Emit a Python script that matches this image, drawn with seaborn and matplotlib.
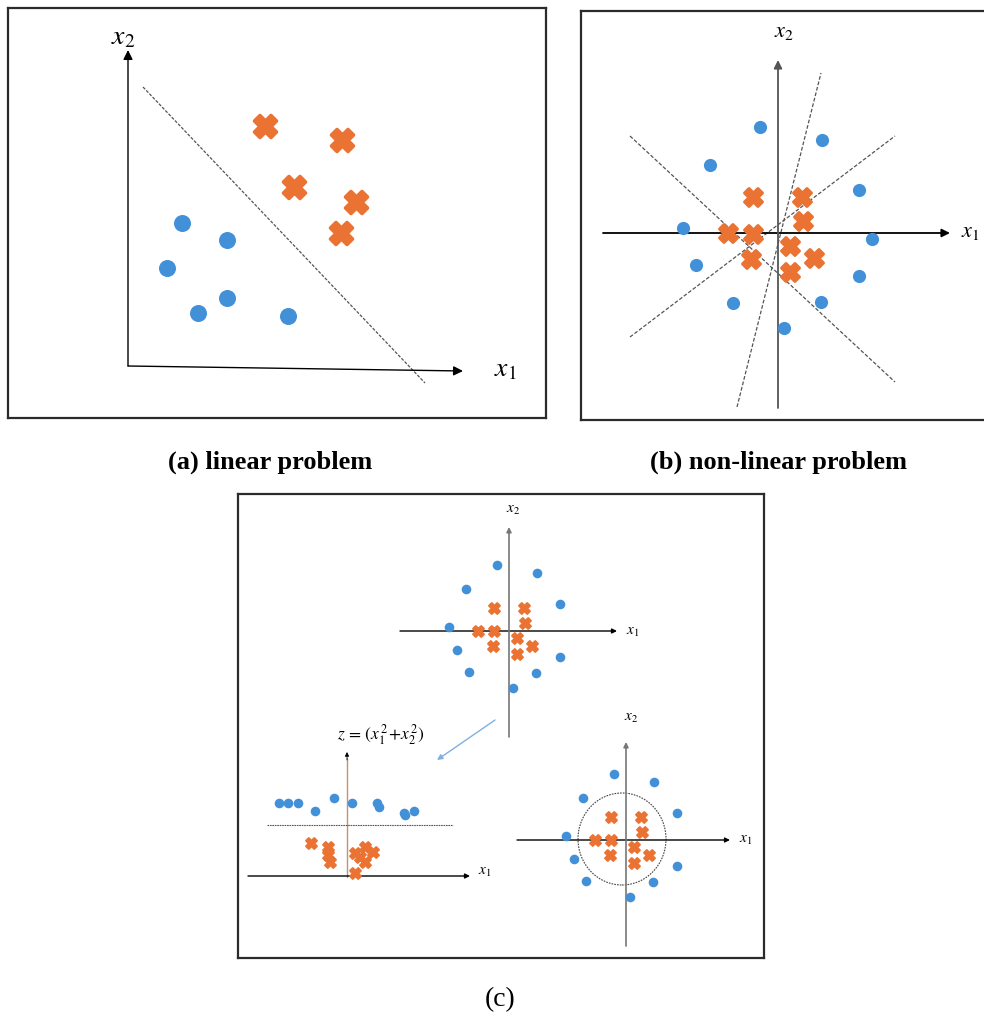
import numpy as np
import seaborn as sns
import matplotlib.pyplot as plt
from matplotlib.patches import Ellipse

sns.set_style('white')
plt.rcParams['font.family'] = ['Liberation Serif', 'DejaVu Serif']
plt.rcParams['mathtext.fontset'] = 'stix'
plt.rcParams['text.color'] = 'black'

BLUE = '#4291d8'
ORANGE = '#ea7333'
W, H = 984, 1014

# (a) linear problem, coordinates relative to the axes origin
a_blue_x = [54, 99, 39, 99, 70, 160]
a_blue_y = [143, 126, 98, 68, 53, 50]
a_orange_x = [137, 214, 166, 228, 213]
a_orange_y = [240, 226, 179, 164, 133]
a_boundary_x = [15, 297]
a_boundary_y = [279, -17]

# (b) non-linear problem
b_blue_x = [-18, 44, -68, 81, -95, 94, -82, 81, -45, 43, 6]
b_blue_y = [106, 93, 68, 43, 5, -6, -32, -43, -70, -69, -95]
b_orange_x = [-25, 24, 25, -50, -25, 12, 36, -27, 12]
b_orange_y = [36, 36, 12, 0, -1, -13, -25, -26, -39]
b_lines = [([-148, 117], [97, -149]),
           ([-148, 117], [-104, 97]),
           ([-41, 43], [-174, 160])]

# (c) original space (same points in the top and right sketch)
c_blue_x = [-12, 28, -43, 51, -60, -52, 51, -40, 27, 4]
c_blue_y = [66, 58, 42, 27, 4, -19, -26, -41, -42, -57]
c_orange_x = [-15, 15, 16, -31, -15, 8, 23, -16, 8]
c_orange_y = [23, 23, 8, 0, 0, -7, -15, -15, -23]
c_circle = (-4, 1, 88, 92)  # centre x, centre y, width, height

# (c) mapped space z = x1^2 + x2^2
z_blue_x = [-68, -59, -49, -32, -13, 5, 30, 32, 57, 67, 58]
z_blue_y = [73, 73, 73, 65, 78, 73, 73, 69, 63, 65, 61]
z_orange_x = [-36, -19, -19, -17, 8, 18, 26, 18, 8, 13]
z_orange_y = [33, 29, 21, 14, 23, 29, 24, 14, 3, 19]
z_cut = 51

fig = plt.figure(figsize=(W / 100, H / 100), dpi=100)


def panel(box, origin, frame=False):
    x0, y0, x1, y1 = box
    ox, oy = origin
    ax = fig.add_axes([x0 / W, 1 - y1 / H, (x1 - x0) / W, (y1 - y0) / H])
    ax.set_xlim(x0 - ox, x1 - ox)
    ax.set_ylim(oy - y1, oy - y0)
    ax.set_xticks([])
    ax.set_yticks([])
    ax.patch.set_alpha(0)
    for s in ax.spines.values():
        s.set_visible(frame)
        s.set_linewidth(1.6)
        s.set_color('#2b2b2b')
    return ax


def arrow(ax, start, end, color='black', lw=1.2, head=True, ms=10):
    style = '-|>' if head else '-'
    ax.annotate('', xy=end, xytext=start,
                arrowprops=dict(arrowstyle=style, color=color, lw=lw,
                                mutation_scale=ms, shrinkA=0, shrinkB=0))


def points(ax, bx, by, ox, oy, s_dot, s_x, x_lw):
    sns.scatterplot(x=bx, y=by, ax=ax, color=BLUE, s=s_dot, marker='o',
                    linewidth=0, legend=False, zorder=3)
    sns.scatterplot(x=ox, y=oy, ax=ax, color=ORANGE, s=s_x, marker='X',
                    linewidth=x_lw, edgecolor=ORANGE, legend=False, zorder=3)


# ---- (a)
ax = panel((8, 8, 546, 418), (128, 366), frame=True)
arrow(ax, (0, 0), (0, 316), lw=1.0, ms=14)
arrow(ax, (0, 0), (335, -5), lw=1.0, ms=14)
ax.plot(a_boundary_x, a_boundary_y, ls=(0, (2.5, 1.2)), color='#555555', lw=0.9)
points(ax, a_blue_x, a_blue_y, a_orange_x, a_orange_y, 150, 250, 2.6)
ax.text(-5, 328, '$x_2$', fontsize=20, ha='center', va='center')
ax.text(377, -4, '$x_1$', fontsize=20, ha='center', va='center')
fig.text(270 / W, 1 - 462 / H, '(a) linear problem', fontsize=19,
         fontweight='bold', ha='center', va='center')

# ---- (b)
ax = panel((581, 11, 1000, 420), (778, 233), frame=True)
arrow(ax, (-175, 0), (172, 0), lw=1.3, ms=12)
arrow(ax, (0, -175), (0, 173), color='#555555', lw=1.3, ms=12)
for lx, ly in b_lines:
    ax.plot(lx, ly, ls=(0, (3, 1.5)), color='#555555', lw=0.9)
points(ax, b_blue_x, b_blue_y, b_orange_x, b_orange_y, 90, 165, 2.2)
ax.text(6, 200, '$x_2$', fontsize=16, ha='center', va='center')
ax.text(192, 0, '$x_1$', fontsize=16, ha='center', va='center')
fig.text(778 / W, 1 - 462 / H, '(b) non-linear problem', fontsize=19,
         fontweight='bold', ha='center', va='center')

# ---- (c) frame + mapping arrow
ax = panel((238, 494, 764, 958), (238, 958), frame=True)
ax.annotate('', xy=(199, 198), xytext=(257, 238),
            arrowprops=dict(arrowstyle='-|>', color='#7fb0e0', lw=1.0,
                            mutation_scale=8, shrinkA=0, shrinkB=0))
fig.text(500 / W, 1 - 1000 / H, '(c)', fontsize=20, ha='center', va='center')

# top: original space
ax = panel((390, 500, 650, 745), (509, 631))
arrow(ax, (-109, 0), (108, 0), lw=1.0, ms=7)
arrow(ax, (0, -106), (0, 104), color='#777777', lw=1.2, ms=7)
points(ax, c_blue_x, c_blue_y, c_orange_x, c_orange_y, 48, 62, 1.4)
ax.text(4, 121, '$x_2$', fontsize=11, ha='center', va='center')
ax.text(124, -1, '$x_1$', fontsize=11, ha='center', va='center')

# right: circular boundary
ax = panel((510, 705, 760, 955), (626, 840))
arrow(ax, (-109, 0), (104, 0), lw=1.0, ms=7)
arrow(ax, (0, -106), (0, 98), color='#777777', lw=1.2, ms=7)
ax.add_patch(Ellipse(c_circle[:2], c_circle[2], c_circle[3], fill=False,
                     ls=(0, (1.5, 1)), lw=0.8, ec='#444444'))
points(ax, c_blue_x, c_blue_y, c_orange_x, c_orange_y, 48, 62, 1.4)
ax.text(5, 122, '$x_2$', fontsize=11, ha='center', va='center')
ax.text(120, 0, '$x_1$', fontsize=11, ha='center', va='center')

# left: mapped space
ax = panel((245, 722, 500, 900), (347, 876))
arrow(ax, (-99, 0), (123, 0), lw=1.0, ms=7)
ax.plot([0, 0], [-1, 118], color='#c9916a', lw=1.0)
arrow(ax, (0, 116), (0, 124), lw=0.6, ms=6)
ax.plot([-80, 106], [z_cut, z_cut], ls=(0, (1.5, 0.7)), color='#555555', lw=0.8)
points(ax, z_blue_x, z_blue_y, z_orange_x, z_orange_y, 48, 62, 1.4)
ax.text(34, 141, r'$z\,=\,(x_1^{\,2}\!+\!x_2^{\,2})$', fontsize=12.5,
        ha='center', va='center')
ax.text(138, 4, '$x_1$', fontsize=11, ha='center', va='center')

fig.savefig('out.png', dpi=100)
